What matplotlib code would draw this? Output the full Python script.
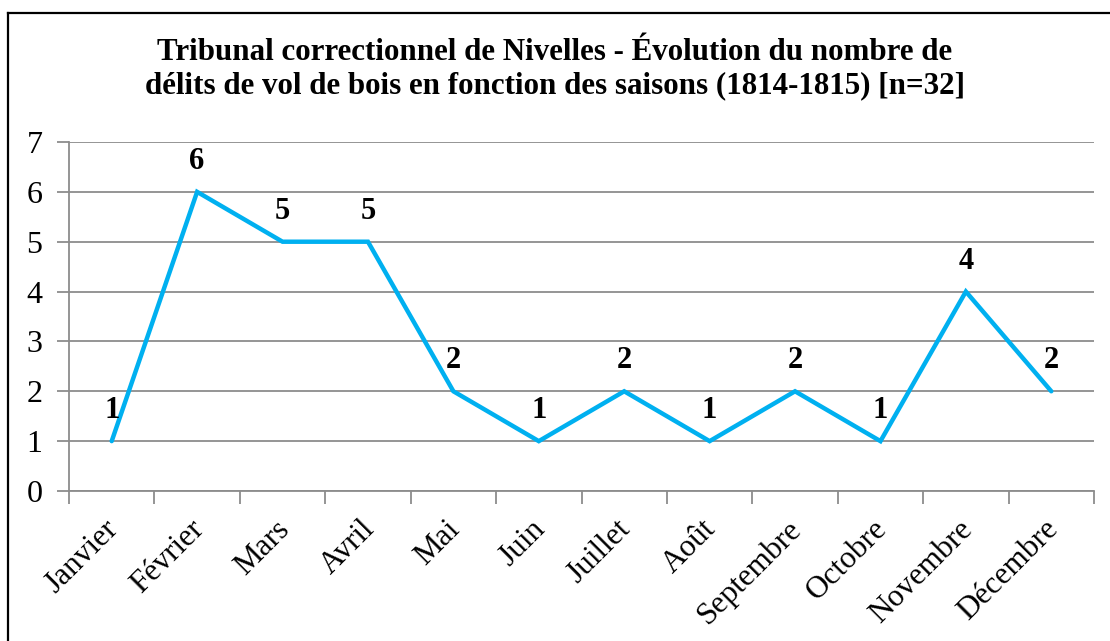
import matplotlib.pyplot as plt
import matplotlib.transforms as mtrans
from matplotlib.lines import Line2D

mois = ['Janvier', 'Février', 'Mars', 'Avril', 'Mai', 'Juin', 'Juillet',
        'Août', 'Septembre', 'Octobre', 'Novembre', 'Décembre']
delits = [1, 6, 5, 5, 2, 1, 2, 1, 2, 1, 4, 2]
yticks = [0, 1, 2, 3, 4, 5, 6, 7]
titre = ('Tribunal correctionnel de Nivelles - Évolution du nombre de\n'
         'délits de vol de bois en fonction des saisons (1814-1815) [n=32]')

plt.rcParams['font.family'] = ['Liberation Serif', 'DejaVu Serif']

W, H = 1110, 641
fig = plt.figure(figsize=(W / 100, H / 100), dpi=100)
ax = fig.add_axes([69 / W, 1 - 491 / H, (1094 - 69) / W, (491 - 142) / H])

x = list(range(len(mois)))
ax.plot(x, delits, color='#00B0F0', linewidth=3.2, solid_joinstyle='miter',
        solid_capstyle='round', zorder=3)
for xi, v in zip(x, delits):
    ax.annotate(str(v), (xi, v), xytext=(0, 16.5), textcoords='offset points',
                ha='center', va='baseline', fontsize=22, fontweight='bold')

ax.set_xlim(-0.5, len(mois) - 0.5)
ax.set_ylim(0, 7)
ax.set_yticks(yticks)
ax.set_yticklabels([str(t) for t in yticks], fontsize=23)
ax.yaxis.grid(True, color='#8c8c8c', linewidth=1.3)
ax.set_axisbelow(True)

ax.set_xticks([i - 0.5 for i in range(len(mois) + 1)])
ax.set_xticklabels([])
ax.set_xticks(x, minor=True)
ax.set_xticklabels(mois, minor=True, rotation=45, ha='right',
                   rotation_mode='anchor', fontsize=22.5)
ax.tick_params(axis='x', which='minor', length=0, pad=17)
ax.tick_params(axis='x', which='major', length=9, width=1.3, color='#8c8c8c')
ax.tick_params(axis='y', length=9, width=1.3, color='#8c8c8c', pad=10)

# décalage des étiquettes de mois vers la gauche
shift = mtrans.ScaledTranslation(-8 / 100, 0, fig.dpi_scale_trans)
for lab in ax.get_xticklabels(minor=True):
    lab.set_transform(lab.get_transform() + shift)

for s in ['top', 'right']:
    ax.spines[s].set_visible(False)
for s in ['left', 'bottom']:
    ax.spines[s].set_color('#8c8c8c')
    ax.spines[s].set_linewidth(1.3)

fig.text(0.5, 1 - 69 / H, titre, ha='center', va='center', fontsize=22.3,
         fontweight='bold', linespacing=1.2)

# cadre du graphique
fig.add_artist(Line2D([8 / W, 1.0], [1 - 13 / H, 1 - 13 / H],
                      transform=fig.transFigure, color='black', linewidth=1.6))
fig.add_artist(Line2D([8 / W, 8 / W], [0, 1 - 13 / H],
                      transform=fig.transFigure, color='black', linewidth=1.6))

fig.savefig('out.png', dpi=100)
